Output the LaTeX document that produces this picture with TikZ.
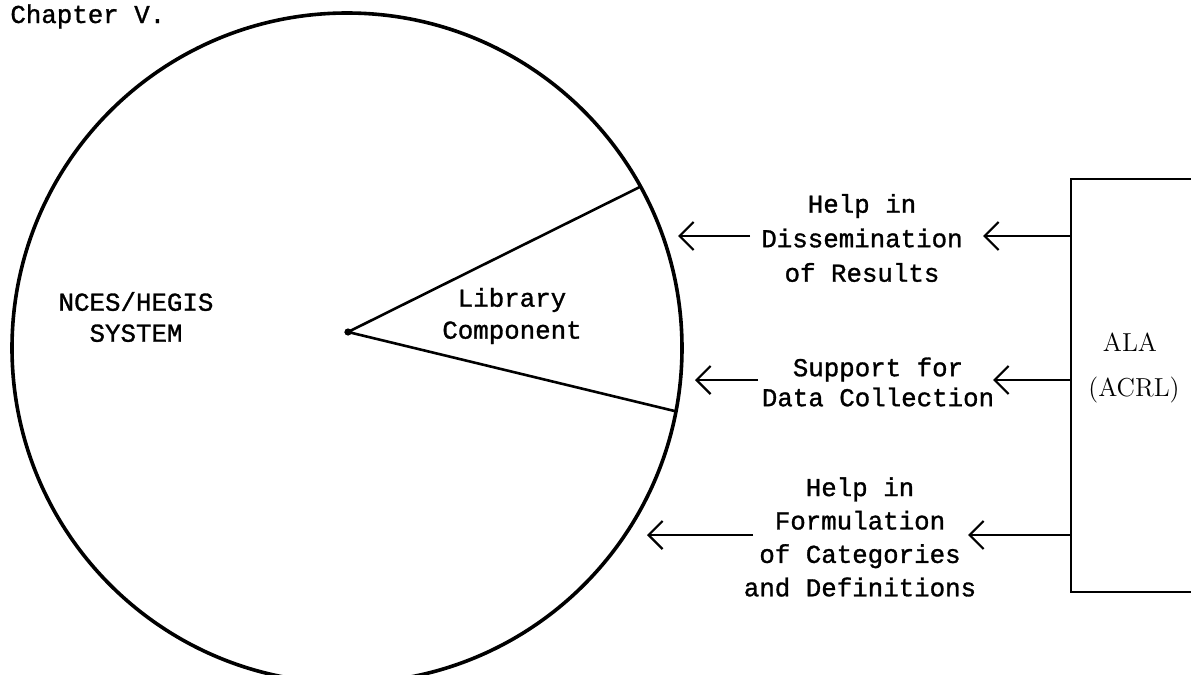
\documentclass[tikz,border=0pt]{standalone}
\usepackage{fontspec}
\newfontfamily\twfont[FakeBold=1.2]{Liberation Mono}
\usetikzlibrary{arrows.meta}
\tikzset{
  px/.style={x=0.5pt,y=-0.5pt},
  tw/.style={font=\twfont\fontsize{12.9}{#1}\selectfont, align=center, inner sep=0pt},
  tw/.default={17.25pt},
  thickline/.style={line width=1.8pt},
  conn/.style={line width=1.1pt, -{Straight Barb[length=7pt,width=14pt,line width=1.1pt]}},
  albox/.style={draw, line width=1.4pt, minimum width=100pt, minimum height=206.5pt, inner sep=0pt},
  serifname/.style={font=\rmfamily\fontsize{13}{15}\selectfont, inner sep=0pt}
}
\begin{document}
\begin{tikzpicture}[px]
\useasboundingbox (0,0) rectangle (1191,675);
\clip (0,0) rectangle (1191,675);
% circle
\coordinate (cc) at (347,348);
\draw[thickline] (cc) circle[radius=167.5pt];
% sector
\coordinate (apex) at (348,332);
\path (cc) ++(28.8:167.5pt) coordinate (up) (cc) ++(-10.9:167.5pt) coordinate (lo);
\draw[line width=1.3pt] (up) -- (apex) -- (lo);
\fill (apex) circle[radius=1.8pt];
% texts
\node[tw, anchor=base west] (chap) at (10,23) {Chapter V.};
\node[tw=15.5pt] (nces) at (136,317) {NCES/HEGIS\\SYSTEM};
\node[tw=16pt] (lib) at (512,316) {Library\\Component};
\node[tw] (t1) at (862,238) {Help in\\Dissemination\\of Results};
\node[tw=15pt] (t2) at (878,382) {Support for\\Data Collection};
\node[tw=16.7pt] (t3) at (860,537) {Help in\\Formulation\\of Categories\\and Definitions};
% box
\node[albox] (ala) at (1171,385.5) {};
\node[serifname] (alat) at (1130,342) {ALA};
\node[serifname] (acrl) at (1134,390) {(ACRL)};
% arrow coordinates
\coordinate (a1s) at (750,236); \coordinate (a1t) at (678,236); \coordinate (b1t) at (983,236);
\coordinate (a2s) at (758,380); \coordinate (a2t) at (695,380); \coordinate (b2t) at (993,380);
\coordinate (a3s) at (753,535); \coordinate (a3t) at (647,535); \coordinate (b3t) at (968,535);
\draw[conn] (a1s) -- (a1t);
\draw[conn] (a2s) -- (a2t);
\draw[conn] (a3s) -- (a3t);
\draw[conn] (ala.west |- b1t) -- (b1t);
\draw[conn] (ala.west |- b2t) -- (b2t);
\draw[conn] (ala.west |- b3t) -- (b3t);
\end{tikzpicture}
\end{document}
